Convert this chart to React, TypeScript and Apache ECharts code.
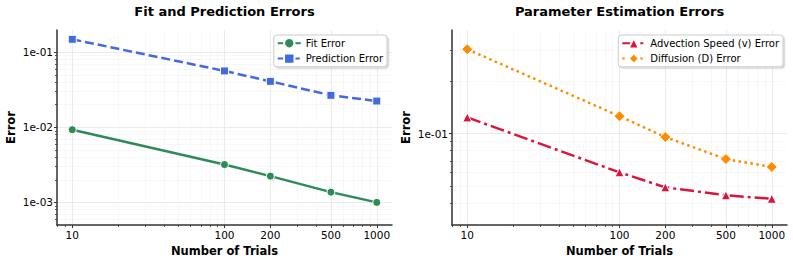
import React, { useEffect, useRef } from "react";
import * as echarts from "echarts";

const FONT = '"DejaVu Sans", "Liberation Sans", sans-serif';

const trials = [10, 100, 200, 500, 1000];
const fitError = [0.0093, 0.00319, 0.00224, 0.00137, 0.001];
const predictionError = [0.149, 0.0564, 0.041, 0.0267, 0.0224];
const advectionError = [0.124, 0.0601, 0.0493, 0.0444, 0.0424];
const diffusionError = [0.305, 0.126, 0.0957, 0.0716, 0.0645];

const xMajorTicks = [10, 100, 200, 500, 1000];
const xMinorTicks = [8, 9, 20, 30, 40, 50, 60, 70, 80, 90, 300, 400, 600, 700, 800, 900];
const leftYMajor = [0.001, 0.01, 0.1];
const leftYMinor = [
  0.0006, 0.0007, 0.0008, 0.0009,
  0.002, 0.003, 0.004, 0.005, 0.006, 0.007, 0.008, 0.009,
  0.02, 0.03, 0.04, 0.05, 0.06, 0.07, 0.08, 0.09,
];
const rightYMajor = [0.1];
const rightYMinor = [0.04, 0.05, 0.06, 0.07, 0.08, 0.09, 0.2, 0.3];

const titles = ["Fit and Prediction Errors", "Parameter Estimation Errors"];
const xName = "Number of Trials";
const yName = "Error";

const X_MIN = 7.94;
const X_MAX = 1259;
const LEFT_Y = [0.0005, 0.198];
const RIGHT_Y = [0.03, 0.393];

const fmtExp = (v: number) => {
  const e = Math.round(Math.log10(v));
  const s = e < 0 ? "-" : "+";
  return `1e${s}${String(Math.abs(e)).padStart(2, "0")}`;
};

const pairs = (ys: number[]) => trials.map((t, i) => [t, ys[i]]);

function majorX(gridIndex: number) {
  return {
    type: "log",
    gridIndex,
    min: X_MIN,
    max: X_MAX,
    position: "bottom",
    axisLine: { show: true, onZero: false, lineStyle: { color: "#333", width: 1.5 } },
    axisTick: { show: true, customValues: xMajorTicks, length: 3, lineStyle: { color: "#333", width: 1 } },
    axisLabel: {
      customValues: xMajorTicks,
      formatter: (v: number) => String(Math.round(v)),
      fontSize: 10.5,
      color: "#000",
      margin: 4,
      fontFamily: FONT,
    },
    splitLine: { show: true, lineStyle: { color: "#e6e6e6", width: 0.8 } },
    minorTick: { show: false },
    minorSplitLine: { show: false },
    name: xName,
    nameLocation: "middle",
    nameGap: 17,
    nameTextStyle: { fontWeight: "bold", fontSize: 11.5, color: "#000", fontFamily: FONT },
  };
}

function minorX(gridIndex: number) {
  return {
    type: "log",
    gridIndex,
    min: X_MIN,
    max: X_MAX,
    position: "bottom",
    axisLine: { show: false, onZero: false },
    axisTick: { show: true, customValues: xMinorTicks, length: 2, lineStyle: { color: "#333", width: 0.8 } },
    axisLabel: { show: false, customValues: xMinorTicks },
    splitLine: { show: true, lineStyle: { color: "#f3f3f3", width: 0.6 } },
  };
}

function majorY(gridIndex: number, ext: number[], ticks: number[]) {
  return {
    type: "log",
    gridIndex,
    min: ext[0],
    max: ext[1],
    position: "left",
    axisLine: { show: true, onZero: false, lineStyle: { color: "#333", width: 1.5 } },
    axisTick: { show: true, customValues: ticks, length: 3, lineStyle: { color: "#333", width: 1 } },
    axisLabel: {
      customValues: ticks,
      formatter: (v: number) => fmtExp(v),
      fontSize: 10.5,
      color: "#000",
      margin: 4,
      fontFamily: FONT,
    },
    splitLine: { show: true, lineStyle: { color: "#e6e6e6", width: 0.8 } },
    minorTick: { show: false },
    minorSplitLine: { show: false },
    name: yName,
    nameLocation: "middle",
    nameGap: 40,
    nameRotate: 90,
    nameTextStyle: { fontWeight: "bold", fontSize: 11.5, color: "#000", fontFamily: FONT },
  };
}

function minorY(gridIndex: number, ext: number[], ticks: number[]) {
  return {
    type: "log",
    gridIndex,
    min: ext[0],
    max: ext[1],
    position: "left",
    axisLine: { show: false, onZero: false },
    axisTick: { show: true, customValues: ticks, length: 2, lineStyle: { color: "#333", width: 0.8 } },
    axisLabel: { show: false, customValues: ticks },
    splitLine: { show: true, lineStyle: { color: "#f3f3f3", width: 0.6 } },
  };
}

function lineSeries(
  name: string,
  data: number[],
  color: string,
  symbol: string,
  symbolSize: number,
  type: any,
  axis: number
) {
  return {
    type: "line",
    name,
    xAxisIndex: axis,
    yAxisIndex: axis,
    data: pairs(data),
    symbol,
    symbolSize,
    showAllSymbol: true,
    lineStyle: { color, width: 2.5, type },
    itemStyle: { color, borderColor: "#fff", borderWidth: 1 },
    emphasis: { disabled: true },
    z: 5,
  };
}

function legend(names: string[], right: number) {
  return {
    data: names,
    orient: "vertical",
    right,
    top: 35,
    itemWidth: 23,
    itemHeight: 13,
    itemGap: 3,
    padding: [2, 4, 2, 3],
    backgroundColor: "#fff",
    borderColor: "#cccccc",
    borderWidth: 1,
    borderRadius: 3,
    shadowColor: "rgba(0,0,0,0.18)",
    shadowOffsetX: 1.5,
    shadowOffsetY: 1.5,
    shadowBlur: 1,
    selectedMode: false,
    textStyle: { fontSize: 10, color: "#000", fontFamily: FONT },
  };
}

export default function App() {
  const ref = useRef<HTMLDivElement>(null);
  useEffect(() => {
    if (!ref.current) return;
    const chart = echarts.init(ref.current, undefined, { renderer: "svg" });
    chart.setOption({
      animation: false,
      backgroundColor: "#fff",
      textStyle: { fontFamily: FONT },
      grid: [
        { left: 57, right: 401, top: 30, bottom: 36, outerBoundsMode: "none" },
        { left: 452, right: 6, top: 30, bottom: 36, outerBoundsMode: "none" },
      ],
      xAxis: [majorX(0), majorX(1), minorX(0), minorX(1)],
      yAxis: [
        majorY(0, LEFT_Y, leftYMajor),
        majorY(1, RIGHT_Y, rightYMajor),
        minorY(0, LEFT_Y, leftYMinor),
        minorY(1, RIGHT_Y, rightYMinor),
      ],
      legend: [
        legend(["Fit Error", "Prediction Error"], 406),
        legend(["Advection Speed (v) Error", "Diffusion (D) Error"], 10),
      ],
      graphic: [
        {
          type: "text",
          x: 224.5,
          y: 11,
          style: {
            text: titles[0],
            fill: "#000",
            fontSize: 13,
            fontWeight: "bold",
            fontFamily: FONT,
            align: "center",
            verticalAlign: "middle",
          },
        },
        {
          type: "text",
          x: 619.5,
          y: 11,
          style: {
            text: titles[1],
            fill: "#000",
            fontSize: 13,
            fontWeight: "bold",
            fontFamily: FONT,
            align: "center",
            verticalAlign: "middle",
          },
        },
      ],
      series: [
        lineSeries("Fit Error", fitError, "#2E8B57", "circle", 8, "solid", 0),
        lineSeries("Prediction Error", predictionError, "#4169E1", "rect", 8, [9, 4], 0),
        lineSeries("Advection Speed (v) Error", advectionError, "#DC143C", "triangle", 9, [14, 4, 3, 4], 1),
        lineSeries("Diffusion (D) Error", diffusionError, "#FF8C00", "diamond", 11, [2.5, 3.5], 1),
      ],
    });
    return () => chart.dispose();
  }, []);
  return (
    <div
      ref={ref}
      style={{ position: "fixed", left: 0, top: 0, width: 793, height: 261 }}
    />
  );
}
